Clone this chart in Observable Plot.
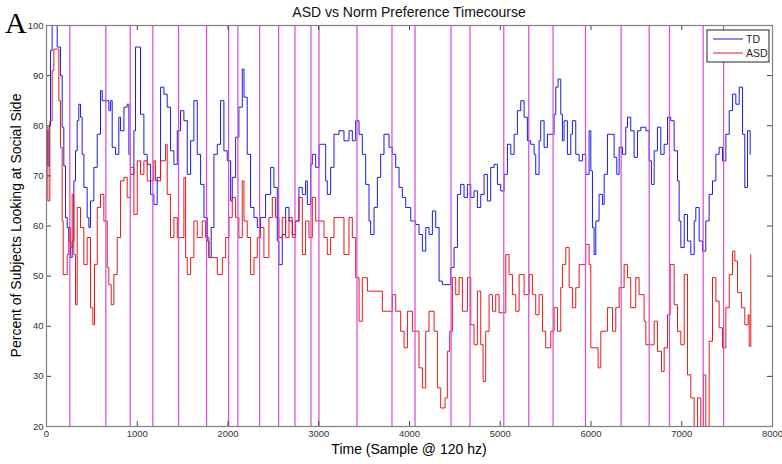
<!DOCTYPE html>
<html>
<head>
<meta charset="utf-8">
<script src="https://cdn.jsdelivr.net/npm/d3@7"></script>
<script src="https://cdn.jsdelivr.net/npm/@observablehq/plot@0.6"></script>
<style>
  body { margin: 0; background: #fff; }
  svg { display: block; }
</style>
</head>
<body>
<div id="chart"></div>
<script>
// Percent of subjects looking at the social side, per sample (120 Hz)
const tdSample = [0,15,30,44,62,99,118,154,173,191,209,228,246,265,283,301,320,338,356,375,393,412,448,467,485,522,559,595,614,650,687,706,724,761,797,816,853,889,908,926,963,981,1018,1036,1073,1110,1147,1183,1220,1257,1294,1330,1367,1404,1441,1477,1514,1551,1588,1624,1661,1698,1735,1771,1790,1815,1845,1882,1918,1955,1992,2029,2047,2084,2120,2157,2176,2212,2249,2286,2323,2359,2414,2470,2506,2543,2561,2598,2635,2672,2709,2745,2782,2819,2855,2874,2911,2929,2966,3003,3039,3076,3094,3131,3168,3223,3278,3333,3370,3407,3444,3480,3517,3554,3572,3609,3646,3682,3719,3774,3811,3848,3885,3921,3958,4013,4068,4105,4142,4179,4215,4252,4289,4326,4362,4436,4454,4491,4528,4564,4601,4638,4675,4711,4748,4785,4822,4858,4895,4932,4969,5005,5042,5079,5116,5153,5189,5226,5263,5299,5336,5373,5391,5428,5446,5483,5520,5557,5593,5612,5637,5667,5685,5703,5740,5777,5795,5832,5869,5906,5942,5979,5998,6016,6034,6053,6089,6126,6145,6181,6218,6255,6284,6310,6347,6383,6402,6438,6475,6512,6549,6604,6641,6666,6696,6732,6769,6806,6843,6879,6916,6953,6971,6990,7027,7063,7100,7137,7155,7192,7229,7265,7302,7339,7376,7412,7449,7486,7523,7560,7596,7633,7670,7695,7725,7754];
const tdPercent = [79,72,80,95,100,100,95.7,90,79.7,72,61.7,59.7,57,53.7,57,69,75,81,84.3,81.7,74.3,67.7,61.7,59.7,65,71.7,78.3,87,85,85,83,85,75.7,74.3,81.7,79,83.7,84.3,74.3,70.3,79,95.7,95.7,82.3,74.3,72.3,66.3,64.3,69.7,87.7,86.3,83.7,75,72.3,79,83,81,70.3,77,85,74.3,68.3,61.7,57,53.7,59.7,74.3,76.3,85,75,73,65,69.7,77.7,83.7,91.3,85.7,74.3,63.7,61.7,59.7,61.7,66.3,71.7,67.7,57,52.3,58.3,63.7,61,58.3,61,67.7,66.3,69,64.3,72.3,74.3,71.7,76.3,76.3,69,66.3,71.7,78.3,79,77,79,77,81,78.3,74.3,68.3,61,58.3,63.7,69.7,74.3,78.3,75.7,74.3,71.7,67.7,65.7,63.7,61,60.3,58.3,55,59.7,58.3,63,59.7,49,48.3,48.3,51.7,55.7,66.3,68.3,65.7,68.3,65.7,67,63.7,66.3,70.3,65,71.7,72.3,68.3,67,70.3,76.3,74.3,78.3,83,85,81.7,77,76.3,74.3,70.3,77,81,75.7,78.3,78.3,82.3,87.7,89.3,82.3,77,81,74.3,78.3,81,74.3,73,74.3,70.3,79,71,59.7,54.3,61,66.3,64.3,70.3,78.3,78.3,73.7,70.3,75.7,74.3,79.7,81.7,79,73.7,79,79.7,79,73,68.3,75,79.7,74.3,76.3,81.7,81,75,69,61,55.7,62.3,57,54.3,61,63.7,57,55,61,66.3,69,74.3,75.7,73,78.3,83,86.3,84.3,87.7,78.3,67.7,79,74.3];

const asdSample = [0,15,37,62,81,110,136,154,173,184,228,246,265,283,301,320,338,375,412,448,485,511,529,559,595,632,669,687,713,742,779,816,853,889,926,963,1000,1036,1073,1110,1183,1202,1257,1312,1330,1367,1404,1441,1514,1533,1551,1588,1624,1661,1716,1753,1790,1845,1882,1937,1974,2010,2047,2084,2120,2157,2176,2212,2249,2286,2323,2359,2396,2451,2488,2524,2561,2598,2635,2672,2709,2745,2782,2819,2855,2892,2929,2966,3003,3058,3094,3131,3168,3241,3278,3333,3370,3407,3444,3480,3536,3609,3701,3756,3811,3848,3903,3940,3977,4032,4087,4105,4142,4179,4215,4271,4307,4344,4392,4417,4443,4473,4509,4546,4583,4638,4675,4711,4748,4785,4811,4840,4877,4914,4950,4987,5024,5061,5097,5134,5171,5208,5263,5318,5354,5391,5428,5465,5501,5557,5593,5630,5667,5685,5722,5759,5795,5832,5869,5906,5942,5979,5998,6053,6078,6108,6145,6181,6237,6273,6310,6365,6402,6438,6493,6530,6585,6604,6659,6696,6732,6777,6806,6843,6872,6916,6953,6990,7027,7063,7100,7137,7174,7210,7240,7265,7302,7339,7376,7412,7449,7486,7523,7560,7585,7615,7659,7695,7732,7743,7761];
const asdPercent = [79.7,65,81,91,95.3,95.3,85,75.7,61,50.3,54.3,59.7,55.7,66.3,54.3,44.3,63.7,59.7,52.3,57.7,43.7,40.3,52.3,63.7,66.3,61,51.7,48.3,44.3,50.3,57.7,69,69.7,65.7,71.7,62.3,73,70.3,73,69,73,69,73,76.3,66.3,57.7,61.7,57.7,69.7,53.7,50.3,53.7,61,57.7,61,57.7,53.7,53.7,50.3,53.7,57.7,61.7,65.7,61.7,57.7,69,61,57.7,50.3,53.7,57.7,59.7,53.7,61.7,65.7,61.7,57.7,61.7,57.7,61.7,57.7,61,65.7,54.3,61,57.7,65.7,61,61,57.7,54.3,57.7,61.7,61.7,54.3,61.7,57.7,49.7,41,49.7,47,47,43,43,46.3,43,39,35.7,43,39,39,31.7,27.7,39,43,39,27.7,23.7,25.7,35,39,49.7,46.3,49.7,43,49.7,40.3,36.3,47,36.3,29,39,46.3,43,46.3,42.7,42.7,54.3,50.3,46.3,43,50.3,46.3,50.3,46.3,42.3,46.3,39,35.7,39,43.7,39,47.7,52.3,55.7,47.7,43.7,47.7,52.3,52.3,56.3,52.3,35.7,35.7,31.7,39,39,43.7,39,43.7,47.7,52.3,49.7,43.7,49.7,46.3,41,36.3,36.3,41,35,31,35.7,42.3,52.3,44.3,39,36.3,50.3,30.3,25.7,20,25.7,20,30.3,20,37,49.7,45,39.7,35.7,43.7,50.3,55,53,46.7,43.7,40.3,42.3,36,54.3];

// Sample indices of the trial boundaries (magenta markers)
const markerSamples = [257,654,923,1172,1455,1764,2007,2109,2348,2558,2738,2914,3002,3421,3807,4061,4458,4667,5039,5314,5582,5939,6332,6641,6865,7236,7461];

const xTicks = [0,1000,2000,3000,4000,5000,6000,7000,8000];
const yTicks = [20,30,40,50,60,70,80,90,100];

const seriesNames = ["TD", "ASD"];
const seriesColors = ["#1a1ae6", "#e31a1a"];

const W = 782, H = 464;
const mL = 46, mR = 10, mT = 25, mB = 38;
const innerW = W - mL - mR, innerH = H - mT - mB;
const tickLen = 5;

const td = tdSample.map((x, i) => ({x, y: tdPercent[i]}));
const asd = asdSample.map((x, i) => ({x, y: asdPercent[i]}));

const svg = Plot.plot({
  width: W,
  height: H,
  marginLeft: mL,
  marginRight: mR,
  marginTop: mT,
  marginBottom: mB,
  style: {fontFamily: "'Liberation Sans', Arial, sans-serif", background: "#fff", overflow: "visible"},
  x: {domain: [0, 8000]},
  y: {domain: [20, 100]},
  marks: [
    Plot.line(td, {x: "x", y: "y", curve: "step-after", stroke: seriesColors[0], strokeWidth: 1}),
    Plot.line(asd, {x: "x", y: "y", curve: "step-after", stroke: seriesColors[1], strokeWidth: 1}),
    Plot.ruleX(markerSamples, {stroke: "#d94fd9", strokeWidth: 1.25}),
    // inward ticks on all four sides
    Plot.ruleX(xTicks, {insetTop: innerH - tickLen, stroke: "#444"}),
    Plot.ruleX(xTicks, {insetBottom: innerH - tickLen, stroke: "#444"}),
    Plot.ruleY(yTicks, {insetRight: innerW - tickLen, stroke: "#444"}),
    Plot.ruleY(yTicks, {insetLeft: innerW - tickLen, stroke: "#444"}),
    Plot.frame({stroke: "#808080", strokeWidth: 1.2}),
    Plot.axisX(xTicks, {tickSize: 0, tickPadding: 4, fontSize: 9.5, fill: "#333", tickFormat: "d", label: null}),
    Plot.axisY(yTicks, {tickSize: 0, tickPadding: 3, fontSize: 9.5, fill: "#333", tickFormat: "d", label: null})
  ]
});

const s = d3.select(svg);

// title
s.append("text")
  .attr("x", mL + innerW / 2).attr("y", 17)
  .attr("text-anchor", "middle")
  .attr("font-size", 14).attr("fill", "#111")
  .text("ASD vs Norm Preference Timecourse");

// panel letter
s.append("text")
  .attr("x", 5).attr("y", 33)
  .attr("text-anchor", "start")
  .attr("font-family", "'Liberation Serif', 'Times New Roman', serif")
  .attr("font-size", 30).attr("fill", "#000")
  .text("A");

// axis titles
s.append("text")
  .attr("x", mL + innerW / 2).attr("y", 454)
  .attr("text-anchor", "middle")
  .attr("font-size", 14).attr("fill", "#000")
  .text("Time (Sample @ 120 hz)");

s.append("text")
  .attr("transform", `translate(21,${mT + innerH / 2}) rotate(-90)`)
  .attr("text-anchor", "middle")
  .attr("font-size", 14).attr("fill", "#000")
  .text("Percent of Subjects Looking at Social Side");

// legend box in the upper right corner of the axes
const lg = s.append("g").attr("transform", `translate(${W - mR - 65},${mT + 5})`);
lg.append("rect")
  .attr("width", 62).attr("height", 32)
  .attr("fill", "#fff").attr("stroke", "#222").attr("stroke-width", 1);
seriesNames.forEach((name, i) => {
  const yy = 9 + i * 14;
  lg.append("line")
    .attr("x1", 6).attr("x2", 36).attr("y1", yy).attr("y2", yy)
    .attr("stroke", seriesColors[i]).attr("stroke-width", 1);
  lg.append("text")
    .attr("x", 39).attr("y", yy + 4)
    .attr("text-anchor", "start")
    .attr("font-size", 10.5).attr("fill", "#222")
    .text(name);
});

document.getElementById("chart").appendChild(svg);
</script>
</body>
</html>
